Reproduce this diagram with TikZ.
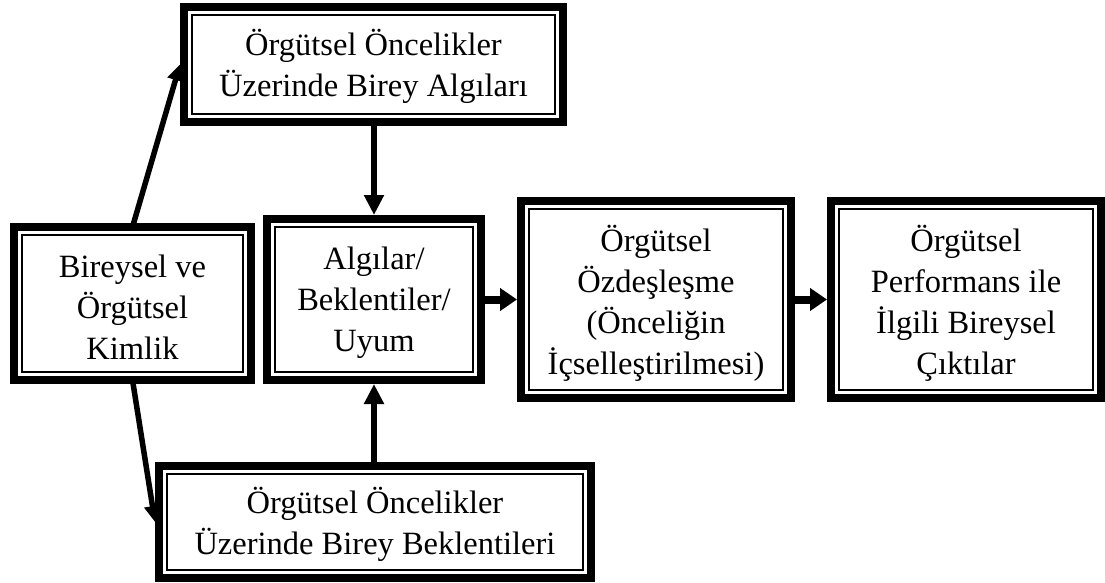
\documentclass[tikz,border=0pt]{standalone}
\usepackage{fontspec}
\setmainfont{Liberation Serif}
\usetikzlibrary{arrows.meta,calc}

\tikzset{
  frame/.style={draw, line width=8pt, inner sep=0pt, outer sep=0pt},
  inner frame/.style={line width=1.6pt},
  txt/.style={inner sep=0pt, align=center,
    font=\fontsize{32.5}{41}\selectfont},
  arrslant/.style={line width=5.5pt, -{Triangle[length=16pt,width=16pt]}},
  arrvert/.style={line width=6.5pt, -{Triangle[length=20pt,width=19pt]}},
  arrhorz/.style={line width=8pt, -{Triangle[length=17pt,width=22pt]}}
}

\begin{document}
\begin{tikzpicture}[x=1pt,y=-1pt]
  \useasboundingbox (0,0) rectangle (1105,583);

  % frames (outer black band centred on the node border)
  \node[frame, minimum width=379pt, minimum height=115pt] (algi)   at (373.5,64.5) {};
  \node[frame, minimum width=237pt, minimum height=153pt] (kimlik) at (132.5,303.5) {};
  \node[frame, minimum width=214pt, minimum height=161pt] (uyum)   at (374,299.5) {};
  \node[frame, minimum width=270pt, minimum height=197pt] (ozdes)  at (656,299.5) {};
  \node[frame, minimum width=270pt, minimum height=197pt] (perf)   at (966,299.5) {};
  \node[frame, minimum width=432pt, minimum height=112pt] (bekle)  at (375,522) {};

  % thin inner line of each frame
  \foreach \n in {algi,kimlik,uyum,ozdes,perf,bekle}
    \draw[inner frame] ([shift={(8pt,-8pt)}]\n.north west)
      rectangle ([shift={(-8pt,8pt)}]\n.south east);

  % texts
  \node[txt] (algi-t)   at ([yshift=-2pt]algi.center)   {Örgütsel Öncelikler\\Üzerinde Birey Algıları};
  \node[txt] (kimlik-t) at ([yshift=-4pt]kimlik.center) {Bireysel ve\\Örgütsel\\Kimlik};
  \node[txt] (uyum-t)   at ([yshift=-3pt]uyum.center)   {Algılar/\\Beklentiler/\\Uyum};
  \node[txt] (ozdes-t)  at ([yshift=-4pt]ozdes.center)  {Örgütsel\\Özdeşleşme\\(Önceliğin\\İçselleştirilmesi)};
  \node[txt] (perf-t)   at ([yshift=-4pt]perf.center)   {Örgütsel\\Performans ile\\İlgili Bireysel\\Çıktılar};
  \node[txt] (bekle-t)  at ([yshift=-2pt]bekle.center)  {Örgütsel Öncelikler\\Üzerinde Birey Beklentileri};

  % connectors
  \draw[arrslant] (kimlik.north) -- ([xshift=-4pt]algi.west);
  \draw[arrslant] (kimlik.south) -- ([xshift=-4pt]bekle.west);
  \draw[arrvert] (uyum.north |- algi.south) -- ([yshift=4pt]uyum.north);
  \draw[arrvert] (uyum.south |- bekle.north) -- ([yshift=-4pt]uyum.south);
  \draw[arrhorz] (uyum.east) -- ([xshift=-4pt]ozdes.west);
  \draw[arrhorz] (ozdes.east) -- ([xshift=-4pt]perf.west);
\end{tikzpicture}
\end{document}
